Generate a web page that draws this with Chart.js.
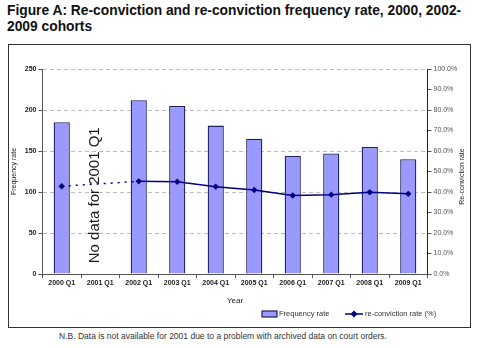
<!DOCTYPE html>
<html><head><meta charset="utf-8">
<script src="https://cdn.jsdelivr.net/npm/chart.js@4/dist/chart.umd.min.js"></script>
<style>
html,body{margin:0;padding:0;background:#fff;width:480px;height:348px;overflow:hidden;font-family:"Liberation Sans",Arial,sans-serif}
#title{position:absolute;left:7px;top:3px;width:472px;font-weight:bold;font-size:13.8px;line-height:16px;color:#111}
#box{position:absolute;left:8px;top:44px;width:463px;height:284px;border:1px solid #333;box-sizing:border-box}
#note{position:absolute;left:0;width:446px;top:331px;text-align:center;font-size:8.5px;color:#333}
canvas{display:block}
</style></head><body>
<div id="title">Figure A: Re-conviction and re-conviction frequency rate, 2000, 2002-<br>2009 cohorts</div>
<div id="box"><canvas id="c" width="461" height="282"></canvas></div>
<div id="note">N.B. Data is not available for 2001 due to a problem with archived data on court orders.</div>
<script>
const categories = ['2000 Q1','2001 Q1','2002 Q1','2003 Q1','2004 Q1','2005 Q1','2006 Q1','2007 Q1','2008 Q1','2009 Q1'];
const frequencyRate = [185, null, 212, 205, 181, 165, 144, 147, 155, 140];
const reconvictionRate = [42.8, null, 45.2, 45.0, 42.6, 41.0, 38.3, 38.7, 39.9, 39.1];
const noteText = 'No data for 2001 Q1';
const rightAxisTitle = 'Re-conviction rate';

const FONT = '"Liberation Sans", Arial, sans-serif';
const BAR_FILL = '#9999ff', BAR_EDGE = '#1f1f5c', LINE_COL = '#000080';

const extras = {
  id: 'extras',
  afterDatasetsDraw(chart) {
    const ctx = chart.ctx;
    const xs = chart.scales.x, ys = chart.scales.y;
    ctx.save();
    ctx.translate(xs.getPixelForValue(1) - 5, ys.getPixelForValue(96));
    ctx.rotate(-Math.PI / 2);
    ctx.font = '15px ' + FONT;
    ctx.fillStyle = '#1a1a1a';
    ctx.textAlign = 'center';
    ctx.textBaseline = 'middle';
    ctx.fillText(noteText, 0, 0);
    ctx.restore();
  },
  afterDraw(chart) {
    const ctx = chart.ctx;
    const ds = chart.data.datasets;
    const ca = chart.chartArea;
    // right axis title, reading bottom-to-top
    ctx.save();
    ctx.translate(chart.scales.y2.right - 8, (ca.top + ca.bottom) / 2 + 5);
    ctx.rotate(-Math.PI / 2);
    ctx.font = '7px ' + FONT;
    ctx.fillStyle = '#222';
    ctx.textAlign = 'center';
    ctx.textBaseline = 'middle';
    ctx.fillText(rightAxisTitle, 0, 0);
    ctx.restore();
    // legend
    const y = 269;
    ctx.save();
    ctx.font = '7.5px ' + FONT;
    ctx.textBaseline = 'middle';
    ctx.fillStyle = ds[0].backgroundColor;
    ctx.strokeStyle = ds[0].borderColor;
    ctx.lineWidth = 1.2;
    ctx.fillRect(253, y - 3, 15, 6);
    ctx.strokeRect(253, y - 3, 15, 6);
    ctx.fillStyle = '#333';
    ctx.fillText(ds[0].label, 270, y);
    ctx.strokeStyle = ds[1].borderColor;
    ctx.lineWidth = 1.5;
    ctx.beginPath(); ctx.moveTo(336, y); ctx.lineTo(354, y); ctx.stroke();
    ctx.fillStyle = ds[1].pointBackgroundColor;
    ctx.beginPath();
    ctx.moveTo(345, y - 3.5); ctx.lineTo(348.5, y); ctx.lineTo(345, y + 3.5); ctx.lineTo(341.5, y); ctx.closePath(); ctx.fill();
    ctx.fillStyle = '#333';
    ctx.fillText(ds[1].label, 356, y);
    ctx.restore();
  }
};

new Chart(document.getElementById('c'), {
  type: 'bar',
  data: {
    labels: categories,
    datasets: [
      {
        type: 'bar', label: 'Frequency rate', data: frequencyRate, yAxisID: 'y',
        backgroundColor: BAR_FILL, borderColor: BAR_EDGE, borderWidth: 1.3,
        barPercentage: 0.42, categoryPercentage: 1, order: 2
      },
      {
        type: 'line', label: 're-conviction rate (%)', data: reconvictionRate, yAxisID: 'y2',
        borderColor: LINE_COL, borderWidth: 1.5, pointStyle: 'rectRot', pointRadius: 3.2,
        pointBackgroundColor: LINE_COL, pointBorderColor: LINE_COL, pointBorderWidth: 0,
        spanGaps: true, tension: 0, order: 1,
        segment: { borderDash: c => (c.p0.skip || c.p1.skip) ? [2, 5] : undefined }
      }
    ]
  },
  options: {
    responsive: false, animation: false, devicePixelRatio: 1,
    layout: { padding: { top: 24, bottom: 21, left: 0, right: 0 } },
    plugins: { legend: { display: false }, tooltip: { enabled: false } },
    scales: {
      x: {
        offset: true,
        grid: { display: true, drawOnChartArea: false, drawTicks: true, tickLength: 4, color: '#555', offset: true },
        border: { color: '#555', width: 1 },
        ticks: { font: { family: FONT, size: 7, weight: 'bold' }, color: '#222', padding: 1, maxRotation: 0, autoSkip: false },
        title: { display: true, text: 'Year', font: { family: FONT, size: 8 }, color: '#222', padding: { top: 0, bottom: 0 } },
        afterFit: s => { s.height = 32; }
      },
      y: {
        position: 'left', min: 0, max: 250,
        ticks: { stepSize: 50, font: { family: FONT, size: 7, weight: 'bold' }, color: '#222', padding: 2 },
        grid: { color: '#bdbdbd', tickColor: '#555', tickLength: 4, tickBorderDash: [] },
        border: { color: '#555', width: 1, dash: [4, 3] },
        title: { display: true, text: 'Frequency rate', font: { family: FONT, size: 7 }, color: '#222', padding: { top: 1, bottom: 0 } },
        afterFit: s => { s.width = 33.5; }
      },
      y2: {
        position: 'right', min: 0, max: 100,
        ticks: { stepSize: 10, callback: v => v.toFixed(1) + '%', font: { family: FONT, size: 7 }, color: '#555', padding: 2 },
        grid: { drawOnChartArea: false, color: '#555', tickLength: 4 },
        border: { color: '#222', width: 1 },
        title: { display: false },
        afterFit: s => { s.width = 42.5; }
      }
    }
  },
  plugins: [extras]
});
</script>
</body></html>
